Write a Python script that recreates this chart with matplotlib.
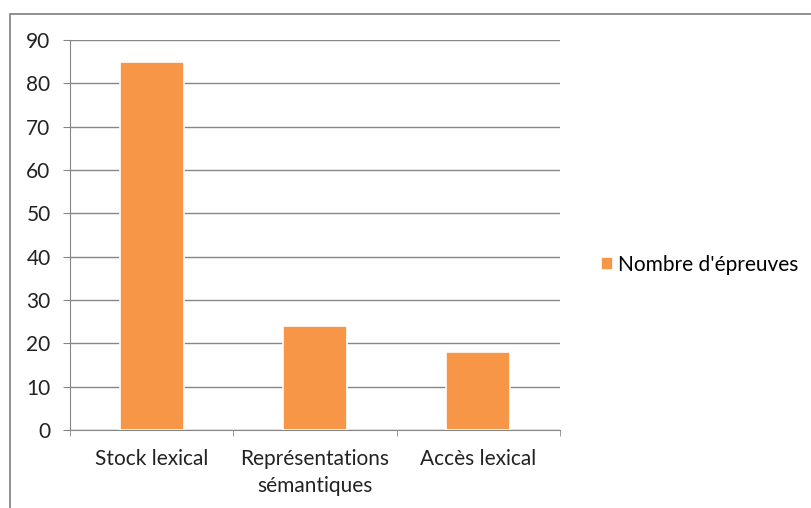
import matplotlib
matplotlib.use('Agg')
import matplotlib.pyplot as plt
from matplotlib.patches import Rectangle

categories = ['Stock lexical', 'Représentations\nsémantiques', 'Accès lexical']
valeurs = [85, 24, 18]
serie = "Nombre d'épreuves"
yticks = [0, 10, 20, 30, 40, 50, 60, 70, 80, 90]

plt.rcParams['font.family'] = ['Lato', 'DejaVu Sans']

W, H = 812, 508
fig = plt.figure(figsize=(W / 100, H / 100), dpi=100)

# cadre extérieur
fig.patches.append(Rectangle((10 / W, -0.01), 1.02, (H - 14) / H + 0.01, transform=fig.transFigure,
                             fill=False, edgecolor='#888888', linewidth=1.3))

ax = fig.add_axes([70 / W, (H - 430) / H, 490 / W, 390 / H])
x = list(range(len(categories)))
ax.bar(x, valeurs, width=0.39, color='#F79646', edgecolor='white', linewidth=1.2,
       zorder=3, label=serie)

ax.set_xlim(-0.5, 2.5)
ax.set_ylim(0, 90)
ax.set_yticks(yticks)
ax.set_xticks(x)
ax.set_xticklabels(categories, fontsize=15, color='#222222', linespacing=1.4)
ax.set_xticks([-0.5, 0.5, 1.5, 2.5], minor=True)
ax.tick_params(axis='x', which='major', length=0, pad=14)
ax.tick_params(axis='x', which='minor', length=4.5, color='#868686')
ax.tick_params(axis='y', length=5, color='#868686', labelsize=15, labelcolor='#222222', pad=9)

ax.yaxis.grid(True, color='#868686', linewidth=1)
ax.set_axisbelow(True)
for s in ['top', 'right']:
    ax.spines[s].set_visible(False)
ax.spines['left'].set_color('#868686')
ax.spines['bottom'].set_color('#868686')

fig.legend(loc='center left', bbox_to_anchor=(586 / W, (H - 265) / H), frameon=False,
           fontsize=15, handlelength=0.6, handleheight=0.6, handletextpad=0.25,
           borderpad=0.2)

fig.savefig('out.png', dpi=100)
